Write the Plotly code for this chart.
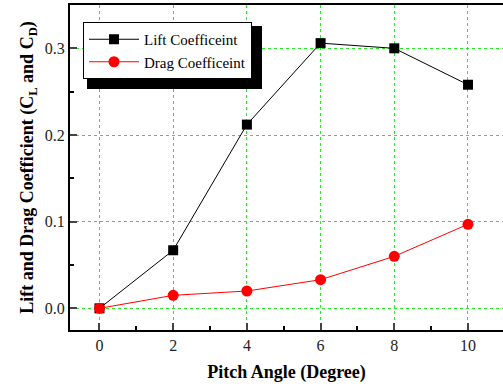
import plotly.graph_objects as go

pitch_angle = [0, 2, 4, 6, 8, 10]
lift_coeff = [0.0, 0.067, 0.212, 0.306, 0.300, 0.258]
drag_coeff = [0.0, 0.015, 0.020, 0.033, 0.060, 0.097]
x_ticks = [0, 2, 4, 6, 8, 10]
y_ticks = [0.0, 0.1, 0.2, 0.3]

FONT = "Liberation Serif"

fig = go.Figure()
fig.add_trace(go.Scatter(
    x=pitch_angle, y=lift_coeff, mode="lines+markers", name="Lift Coefficeint",
    line=dict(color="black", width=1),
    marker=dict(symbol="square", size=10, color="black"),
))
fig.add_trace(go.Scatter(
    x=pitch_angle, y=drag_coeff, mode="lines+markers", name="Drag Coefficeint",
    line=dict(color="red", width=1),
    marker=dict(symbol="circle", size=11, color="red"),
))

grid = dict(showgrid=True, gridcolor="#22ee22", griddash="dot", gridwidth=1)

fig.update_xaxes(
    range=[-0.8, 10.95], tickvals=x_ticks, ticks="inside", ticklen=7, tickwidth=1.5,
    minor=dict(ticks="inside", ticklen=4, dtick=1, tick0=0, tickcolor="black", tickwidth=1.5),
    showline=True, linecolor="black", linewidth=2, mirror=True, zeroline=False,
    tickfont=dict(family=FONT, size=16, color="#222"), automargin=False,
    title=dict(text="<b>Pitch Angle (Degree)</b>", font=dict(family=FONT, size=18, color="black"), standoff=12),
    **grid,
)
fig.update_yaxes(
    range=[-0.025, 0.35], tickvals=y_ticks, tickformat=".1f", ticks="inside", ticklen=7, tickwidth=1.5,
    minor=dict(ticks="inside", ticklen=4, dtick=0.05, tick0=0, tickcolor="black", tickwidth=1.5),
    showline=True, linecolor="black", linewidth=2, zeroline=False,
    tickfont=dict(family=FONT, size=16, color="#222"), automargin=False,
    title=dict(text="<b>Lift and Drag Coefficient (C<sub>L</sub> and C<sub>D</sub>)</b>",
               font=dict(family=FONT, size=18, color="black"), standoff=6),
    **grid,
)

# legend shadow
fig.add_shape(type="rect", xref="paper", yref="paper",
              x0=(87 - 70) / 433, x1=(262 - 70) / 433,
              y0=(330 - 89) / 325, y1=(330 - 26) / 325,
              fillcolor="black", line=dict(width=0), layer="above")

fig.update_layout(
    width=503, height=388,
    margin=dict(l=70, r=0, t=5, b=58),
    plot_bgcolor="white", paper_bgcolor="white",
    showlegend=True,
    legend=dict(x=(83 - 70) / 433, y=(330 - 22) / 325, xanchor="left", yanchor="top",
                bgcolor="white", bordercolor="black", borderwidth=1,
                font=dict(family=FONT, size=15, color="black"),
                tracegroupgap=0, itemwidth=50),
)

fig.write_html("out.html", config={"displayModeBar": False},
               post_script="document.body.style.margin='0';document.body.style.padding='0';")
